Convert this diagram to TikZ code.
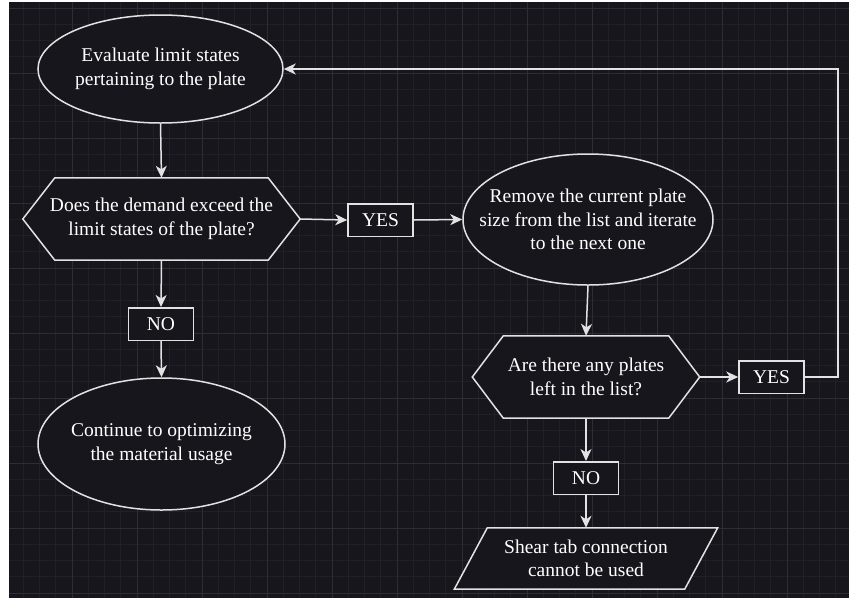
\documentclass[tikz,border=0pt]{standalone}
\usepackage{fontspec}
\setmainfont{Liberation Serif}
\usetikzlibrary{shapes.geometric,arrows.meta,calc}

\definecolor{canvas}{HTML}{18161D}
\definecolor{gridminor}{HTML}{221F27}
\definecolor{gridmajor}{HTML}{2F2C34}
\definecolor{ink}{HTML}{E2E2E2}

\tikzset{
  labeltext/.style={font=\rmfamily\fontsize{19.5}{23.4}\selectfont, text=white,
    align=center, inner sep=0pt},
  base/.style={draw=ink, line width=1.5pt, fill=canvas, labeltext},
  term/.style={draw=ink, line width=1.5pt, fill=canvas, ellipse, inner sep=0pt},
  tag/.style={base, rectangle, minimum width=65pt, minimum height=32.5pt},
  core/.style={rectangle, draw=none, labeltext},
  outline/.style={draw=ink, line width=1.5pt, fill=canvas, line join=miter},
  flow/.style={draw=ink, line width=1.5pt,
    -{Stealth[length=12pt,width=11pt,inset=3.5pt]}},
}

\begin{document}
\begin{tikzpicture}[x=1pt,y=-1pt]
  % page and canvas
  \fill[white] (0,0) rectangle (849,598);
  \useasboundingbox (0,0) rectangle (849,598);
  \fill[canvas] (9,2) rectangle (849,598);
  \begin{scope}
    \clip (9,2) rectangle (849,598);
    \foreach \i in {0,...,52}
      \draw[gridminor, line width=0.8pt] ({7+16.25*\i},2) -- ({7+16.25*\i},598);
    \foreach \i in {0,...,37}
      \draw[gridminor, line width=0.8pt] (9,{8+16.25*\i}) -- (849,{8+16.25*\i});
    \foreach \i in {0,...,13}
      \draw[gridmajor, line width=1pt] ({7+65*\i},2) -- ({7+65*\i},598);
    \foreach \i in {0,...,9}
      \draw[gridmajor, line width=1pt] (9,{8+65*\i}) -- (849,{8+65*\i});
  \end{scope}

  % terminals (outline first, wording on top)
  \node[term, minimum width=245pt, minimum height=108pt] (eval) at (160.5,69) {};
  \node[core] at (eval) {Evaluate limit states\\pertaining to the plate};
  \node[term, minimum width=250pt, minimum height=131pt] (remove) at (588,219.5) {};
  \node[core] at (remove) {Remove the current plate\\size from the list and iterate\\to the next one};
  \node[term, minimum width=247pt, minimum height=132pt] (cont) at (161.5,444) {};
  \node[core] at (cont) {Continue to optimizing\\the material usage};

  % decision 1 (hexagon)
  \node[core, minimum width=213pt, minimum height=82pt] (q1) at (161.5,219) {};
  \coordinate (q1l) at ($(q1.west)+(-32,0)$);
  \coordinate (q1r) at ($(q1.east)+(32,0)$);
  \path[outline] (q1.north west) -- (q1.north east) -- (q1r) -- (q1.south east)
    -- (q1.south west) -- (q1l) -- cycle;
  \node[core] at (q1) {Does the demand exceed the\\limit states of the plate?};

  % decision 2 (hexagon)
  \node[core, minimum width=165pt, minimum height=82pt] (q2) at (586,377) {};
  \coordinate (q2l) at ($(q2.west)+(-31,0)$);
  \coordinate (q2r) at ($(q2.east)+(31,0)$);
  \path[outline] (q2.north west) -- (q2.north east) -- (q2r) -- (q2.south east)
    -- (q2.south west) -- (q2l) -- cycle;
  \node[core] at (q2) {Are there any plates\\left in the list?};

  % output (parallelogram)
  \node[core, minimum width=230pt, minimum height=61pt] (out) at (586,558.5) {};
  \path[outline] ($(out.north west)+(16.5,0)$) -- ($(out.north east)+(16.5,0)$)
    -- ($(out.south east)+(-16.5,0)$) -- ($(out.south west)+(-16.5,0)$) -- cycle;
  \node[core] at (out) {Shear tab connection\\cannot be used};

  % answer tags
  \node[tag] (yes1) at (380.5,220) {YES};
  \node[tag] (no1)  at (161,324) {NO};
  \node[tag] (yes2) at (771.5,377) {YES};
  \node[tag] (no2)  at (586,478) {NO};

  % connectors
  \draw[flow] (eval.south) -- (q1.north);
  \draw[flow] (q1r) -- (yes1.west);
  \draw[flow] (yes1.east) -- (remove.west);
  \draw[flow] (q1.south) -- (no1.north);
  \draw[flow] (no1.south) -- (cont.north);
  \draw[flow] (remove.south) -- (q2.north);
  \draw[flow] (q2r) -- (yes2.west);
  \draw[flow] (yes2.east) -- ++(33,0) |- (eval.east);
  \draw[flow] (q2.south) -- (no2.north);
  \draw[flow] (no2.south) -- (out.north);
\end{tikzpicture}
\end{document}
